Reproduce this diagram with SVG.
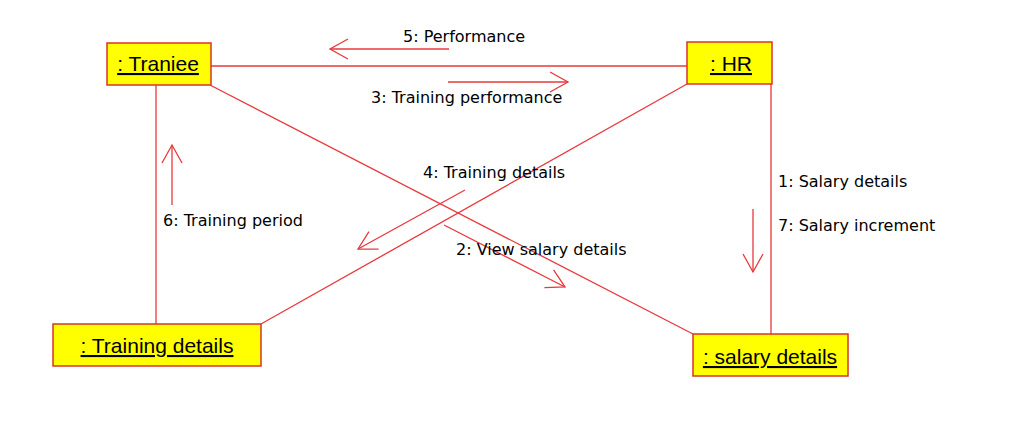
<svg xmlns="http://www.w3.org/2000/svg" width="1027" height="431" viewBox="0 0 1027 431">
<style>
.box{fill:#ffff00;stroke:#d8342a;stroke-width:1.5}
.ntext{font-family:"Liberation Sans",Arial,sans-serif;font-size:21px;fill:#000;text-anchor:middle;text-decoration:underline}
.link{stroke:#e8383c;stroke-width:1.3;fill:none}
.msg{stroke:#e8383c;stroke-width:1.3;fill:none;marker-end:url(#open)}
.mtext{font-family:"DejaVu Sans",Verdana,sans-serif;font-size:16px;fill:#000}
</style>
<defs>
<marker id="open" markerUnits="userSpaceOnUse" viewBox="-20 -12 22 24" refX="0" refY="0" markerWidth="22" markerHeight="24" orient="auto" overflow="visible">
<path d="M-18,-10 L0,0 L-18,10" fill="none" stroke="#e8383c" stroke-width="1.3"/>
</marker>
</defs>
<rect width="1027" height="431" fill="#ffffff"/>
<g id="connectors">
<line class="link" x1="211" y1="66" x2="687" y2="66"/>
<line class="link" x1="210" y1="85" x2="693" y2="334"/>
<line class="link" x1="687" y1="84" x2="261" y2="324"/>
<line class="link" x1="156" y1="85" x2="156" y2="324"/>
<line class="link" x1="771" y1="84" x2="771" y2="334"/>
<line class="msg" x1="449" y1="49" x2="330" y2="49"/>
<text class="mtext" x="403" y="42">5: Performance</text>
<line class="msg" x1="448" y1="82" x2="568" y2="82"/>
<text class="mtext" x="371" y="103">3: Training performance</text>
<line class="msg" x1="465" y1="190" x2="358" y2="249"/>
<text class="mtext" x="423" y="178">4: Training details</text>
<line class="msg" x1="444" y1="225" x2="565" y2="287"/>
<text class="mtext" x="456" y="255">2: View salary details</text>
<line class="msg" x1="172" y1="205" x2="172" y2="145"/>
<text class="mtext" x="163" y="226">6: Training period</text>
<line class="msg" x1="753" y1="209" x2="753" y2="272"/>
<text class="mtext" x="778" y="187">1: Salary details</text>
<text class="mtext" x="778" y="231">7: Salary increment</text>
</g>
<g id="traniee">
<rect class="box" x="107" y="43" width="104" height="42"/>
<text class="ntext" x="158" y="71">: Traniee</text>
</g>
<g id="hr">
<rect class="box" x="687" y="42" width="85" height="42"/>
<text class="ntext" x="731" y="71">: HR</text>
</g>
<g id="training-details">
<rect class="box" x="53" y="324" width="208" height="42"/>
<text class="ntext" x="157" y="353">: Training details</text>
</g>
<g id="salary-details">
<rect class="box" x="693" y="334" width="155" height="42"/>
<text class="ntext" x="770" y="364">: salary details</text>
</g>
</svg>
